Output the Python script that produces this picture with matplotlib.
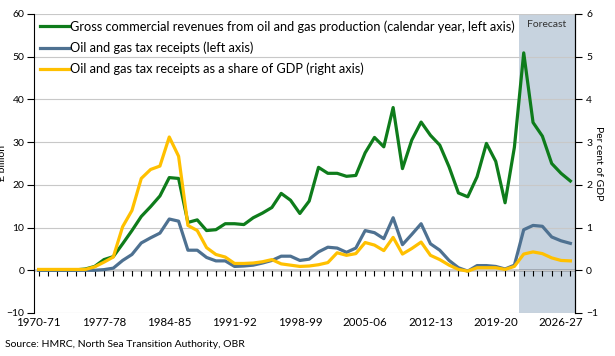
import numpy as np
import matplotlib
matplotlib.use("Agg")
import matplotlib.pyplot as plt

plt.rcParams['font.family'] = ['Lato', 'DejaVu Sans']

# financial years 1970-71 .. 2027-28
years = [f"{y}-{str(y + 1)[-2:]}" for y in range(1970, 2028)]

gross_revenues = [0.1, 0.1, 0.1, 0.1, 0.1, 0.3, 0.9, 2.5, 3.2, 6.2,
                  9.3, 12.6, 14.9, 17.4, 21.7, 21.5, 11.2, 11.8, 9.3, 9.5,
                  10.9, 10.9, 10.7, 12.3, 13.4, 14.7, 18.0, 16.4, 13.3, 16.2,
                  24.1, 22.7, 22.7, 22.0, 22.2, 27.5, 31.1, 28.9, 38.1, 23.8,
                  30.5, 34.7, 31.6, 29.3, 24.2, 18.1, 17.2, 21.9, 29.7, 25.5,
                  15.8, 28.8, 50.9, 34.6, 31.4, 25.0, 22.7, 20.9]

tax_receipts = [0.0, 0.0, 0.0, 0.0, 0.0, 0.0, 0.0, 0.15, 0.5, 2.3,
                3.7, 6.4, 7.6, 8.7, 12.0, 11.5, 4.7, 4.7, 3.0, 2.2,
                2.2, 0.9, 1.0, 1.2, 1.7, 2.3, 3.3, 3.3, 2.3, 2.6,
                4.3, 5.4, 5.2, 4.2, 5.2, 9.3, 8.8, 7.4, 12.3, 6.0,
                8.4, 10.9, 6.2, 4.7, 2.3, 0.6, -0.2, 1.1, 1.1, 0.9,
                0.3, 1.2, 9.5, 10.5, 10.3, 7.8, 6.9, 6.3]

tax_share_gdp = [0.02, 0.02, 0.02, 0.02, 0.02, 0.02, 0.08, 0.19, 0.31, 1.02,
                 1.40, 2.15, 2.36, 2.44, 3.12, 2.67, 1.05, 0.93, 0.53, 0.37,
                 0.31, 0.16, 0.16, 0.17, 0.20, 0.25, 0.15, 0.12, 0.09, 0.10,
                 0.13, 0.18, 0.41, 0.35, 0.39, 0.65, 0.59, 0.46, 0.77, 0.38,
                 0.51, 0.66, 0.35, 0.25, 0.12, 0.02, -0.02, 0.06, 0.06, 0.06,
                 0.02, 0.09, 0.38, 0.43, 0.39, 0.29, 0.23, 0.22]

forecast_start = "2022-23"

green = '#0E7C1B'
blue = '#4E7191'
yellow = '#FFC000'
shade = '#C7D3DF'

x = np.arange(len(years))
fc = years.index(forecast_start)

fig = plt.figure(figsize=(6.15, 3.56), dpi=100)
ax = fig.add_axes([0.0553, 0.1208, 0.8797, 0.8399])
ax2 = ax.twinx()

ax.axvspan(fc - 0.5, len(years) - 0.5, color=shade, lw=0, zorder=0)
ax.text(fc + (len(years) - fc) / 2 - 0.5, 57.6, "Forecast", ha='center', va='center',
        fontsize=7.5, color='#333333')

l1, = ax.plot(x, gross_revenues, color=green, lw=2.3, zorder=3,
              label="Gross commercial revenues from oil and gas production (calendar year, left axis)")
l2, = ax.plot(x, tax_receipts, color=blue, lw=2.3, zorder=3,
              label="Oil and gas tax receipts (left axis)")
l3, = ax2.plot(x, tax_share_gdp, color=yellow, lw=2.3, zorder=3,
               label="Oil and gas tax receipts as a share of GDP (right axis)")

ax.set_xlim(-0.5, len(years) - 0.5)
ax.set_ylim(-10, 60)
ax2.set_ylim(-1, 6)
ax.set_yticks(range(-10, 61, 10))
ax2.set_yticks(range(-1, 7))

ax.grid(axis='y', color='#C8C8C8', lw=0.8)
ax.set_axisbelow(True)
for s in ['top', 'bottom']:
    ax.spines[s].set_visible(False)
    ax2.spines[s].set_visible(False)
ax2.spines['left'].set_visible(False)
ax.spines['left'].set_linewidth(0.8)
ax2.spines['right'].set_linewidth(0.8)

ax.tick_params(axis='y', direction='out', length=5, width=0.8, labelsize=7.5, pad=2)
ax2.tick_params(axis='y', direction='out', length=5, width=0.8, labelsize=7.5, pad=3)

ax.set_xticks(x[::7])
ax.set_xticklabels(years[::7])
ax.tick_params(axis='x', length=0, labelsize=8.3, pad=3)

# zero line with a tick for every year
zero = ax.secondary_xaxis(10 / 70)
zero.set_xticks(x)
zero.set_xticklabels([])
zero.tick_params(axis='x', direction='out', length=4.5, width=0.8)
zero.spines['bottom'].set_linewidth(1.0)

ax.set_ylabel("£ billion", fontsize=7.5)
ax.yaxis.set_label_coords(-0.049, 0.5)
ax2.set_ylabel("Per cent of GDP", fontsize=7.5, rotation=-90, va='center')
ax2.yaxis.set_label_coords(1.044, 0.5)

ax.legend(handles=[l1, l2, l3], loc='upper left', frameon=False, fontsize=9.2,
          handlelength=2.2, handletextpad=0.15, labelspacing=0.68,
          borderaxespad=0.1, bbox_to_anchor=(0.0, 1.0))

fig.text(0.008, 0.025, "Source: HMRC, North Sea Transition Authority, OBR", fontsize=7.5)

fig.savefig("out.png", dpi=100, facecolor='white')
